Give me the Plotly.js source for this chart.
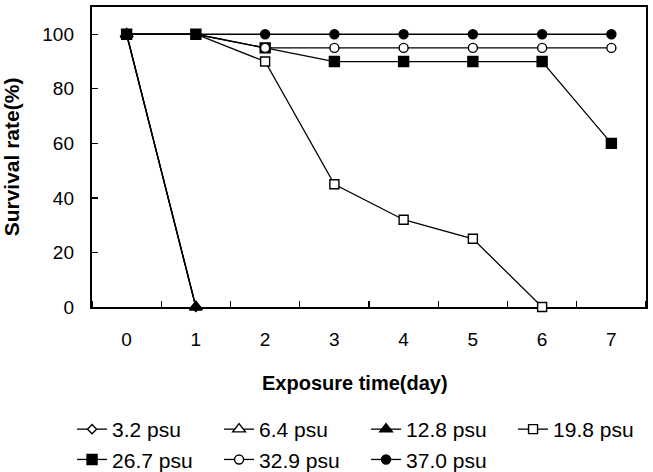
<!DOCTYPE html>
<html>
<head>
<meta charset="utf-8">
<script src="https://cdn.plot.ly/plotly-3.0.1.min.js"></script>
<style>
  html, body { margin: 0; padding: 0; background: #fff; }
  #chart { width: 653px; height: 472px; }
</style>
</head>
<body>
<div id="chart"></div>
<script>
// Survival rate (%) by exposure day for each salinity
const days = [0, 1, 2, 3, 4, 5, 6, 7];
const daysShort = [0, 1];
const daysTo6 = [0, 1, 2, 3, 4, 5, 6];

const s3_2 = [100, 0];
const s6_4 = [100, 0];
const s12_8 = [100, 0];
const s19_8 = [100, 100, 90, 45, 32, 25, 0];
const s26_7 = [100, 100, 95, 90, 90, 90, 90, 60];
const s32_9 = [100, 100, 95, 95, 95, 95, 95, 95];
const s37_0 = [100, 100, 100, 100, 100, 100, 100, 100];

const xTickVals = [0, 1, 2, 3, 4, 5, 6, 7];
const yTickVals = [0, 20, 40, 60, 80, 100];

const FONT = 'Liberation Sans, Arial, sans-serif';

function series(name, x, y, symbol, size, filled) {
  return {
    type: 'scatter',
    mode: 'lines+markers',
    name: name,
    x: x,
    y: y,
    cliponaxis: false,
    line: { color: '#000', width: 1.3 },
    marker: {
      symbol: symbol,
      size: size,
      color: filled ? '#000' : '#fff',
      line: { color: '#000', width: 1.4 }
    }
  };
}

const traces = [
  series('3.2 psu', daysShort, s3_2, 'diamond', 7, false),
  series('6.4 psu', daysShort, s6_4, 'triangle-up', 11, false),
  series('12.8 psu', daysShort, s12_8, 'triangle-up', 11, true),
  series('19.8 psu', daysTo6, s19_8, 'square', 9, false),
  series('26.7 psu', days, s26_7, 'square', 10, true),
  series('32.9 psu', days, s32_9, 'circle', 9, false),
  series('37.0 psu', days, s37_0, 'circle', 9, true)
];

const layout = {
  width: 653,
  height: 472,
  margin: { l: 92, r: 7, t: 7, b: 165, autoexpand: false },
  paper_bgcolor: '#fff',
  plot_bgcolor: '#fff',
  font: { family: FONT, color: '#000', size: 19 },
  showlegend: true,
  legend: {
    orientation: 'h',
    x: -0.036,
    xanchor: 'left',
    y: -0.34,
    yanchor: 'top',
    font: { family: FONT, size: 21, color: '#000' },
    entrywidth: 102,
    entrywidthmode: 'pixels',
    bgcolor: 'rgba(0,0,0,0)'
  },
  annotations: [{
    text: '<b>Exposure time(day)</b>',
    xref: 'paper', yref: 'paper',
    x: 0.475, y: -0.253,
    xanchor: 'center', yanchor: 'middle',
    showarrow: false,
    font: { family: FONT, size: 20, color: '#000' }
  }],
  xaxis: {
    range: [-0.5, 7.5],
    tickmode: 'array',
    tickvals: xTickVals,
    ticktext: xTickVals.map(String),
    ticks: '',
    ticklabelstandoff: 14,
    tickfont: { family: FONT, size: 19 },
    minor: { tickmode: 'linear', tick0: 0.5, dtick: 1, ticks: 'inside', ticklen: 6, tickwidth: 1.3, tickcolor: '#000' },
    showgrid: false,
    zeroline: false,
    showline: true,
    linecolor: '#000',
    linewidth: 2.2,
    mirror: true,
    layer: 'below traces'
  },
  yaxis: {
    range: [0, 110],
    tickmode: 'array',
    tickvals: yTickVals,
    ticks: 'inside',
    ticklen: 6,
    tickwidth: 1.3,
    tickcolor: '#000',
    ticklabelstandoff: 12,
    tickfont: { family: FONT, size: 19 },
    showgrid: false,
    zeroline: false,
    showline: true,
    linecolor: '#000',
    linewidth: 2.2,
    mirror: true,
    layer: 'below traces',
    title: { text: '<b>Survival rate(%)</b>', font: { family: FONT, size: 21 }, standoff: 19 }
  }
};

Plotly.newPlot('chart', traces, layout, { displayModeBar: false, staticPlot: true });
</script>
</body>
</html>
